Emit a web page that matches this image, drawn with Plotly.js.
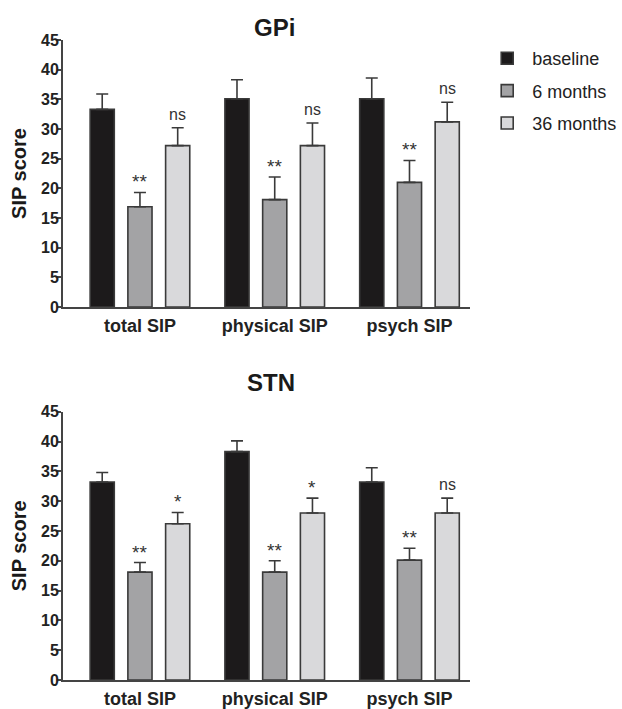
<!DOCTYPE html>
<html><head><meta charset="utf-8">
<script src="https://cdn.plot.ly/plotly-3.0.1.min.js"></script>
<style>body{margin:0;background:#fff}#c{width:622px;height:709px}</style>
</head><body><div id="c"></div>
<script>
const categories = ["total SIP", "physical SIP", "psych SIP"];
const seriesNames = ["baseline", "6 months", "36 months"];
const gpiValues = [[33.3, 35.1, 35.1], [16.9, 18.1, 21.0], [27.2, 27.2, 31.2]];
const gpiErrors = [[2.6, 3.2, 3.5], [2.4, 3.8, 3.7], [3.0, 3.8, 3.3]];
const stnValues = [[33.2, 38.3, 33.2], [18.1, 18.1, 20.1], [26.2, 28.0, 28.0]];
const stnErrors = [[1.6, 1.8, 2.4], [1.6, 1.9, 2.0], [1.9, 2.5, 2.5]];
const gpiSig = [["", "", ""], ["**", "**", "**"], ["ns", "ns", "ns"]];
const stnSig = [["", "", ""], ["**", "**", "**"], ["*", "*", "ns"]];
const yTicks = [0, 5, 10, 15, 20, 25, 30, 35, 40, 45];

const fills = ["#1c1a1b", "#a3a3a5", "#d9d9db"];
const FONT = "Liberation Sans, Arial, Helvetica, sans-serif";
const BARGAP = 0.16;
const slot = (1 - BARGAP) / 3;

const traces = [];
const annotations = [];
function addPanel(vals, errs, sig, xa, ya, showLeg) {
  for (let s = 0; s < 3; s++) {
    traces.push({
      type: "bar", x: categories, y: vals[s], name: seriesNames[s],
      xaxis: xa, yaxis: ya, showlegend: showLeg, legendgroup: seriesNames[s],
      marker: {color: fills[s], line: {color: "#3a3a3a", width: 1.6}},
      error_y: {type: "data", symmetric: false, array: errs[s],
        arrayminus: errs[s].map(() => 0), color: "#3a3a3a", thickness: 1.6, width: 6},
      hoverinfo: "skip"
    });
    for (let i = 0; i < 3; i++) {
      if (!sig[s][i]) continue;
      const isNs = sig[s][i] === "ns";
      annotations.push({
        xref: xa, yref: ya, x: i + (s - 1) * slot, y: vals[s][i] + errs[s][i],
        text: sig[s][i], showarrow: false, yanchor: "bottom", yshift: isNs ? 3 : -2,
        font: {family: FONT, size: isNs ? 16 : 19, color: "#333"}
      });
    }
  }
}
addPanel(gpiValues, gpiErrors, gpiSig, "x", "y", true);
addPanel(stnValues, stnErrors, stnSig, "x2", "y2", false);

annotations.push({xref: "paper", yref: "paper", x: 0.52, y: 1.0, yshift: 28, text: "<b>GPi</b>",
  showarrow: false, font: {family: FONT, size: 24, color: "#1a1a1a"}});
annotations.push({xref: "paper", yref: "paper", x: 0.51, y: 0.4192, yshift: 29, text: "<b>STN</b>",
  showarrow: false, font: {family: FONT, size: 24, color: "#1a1a1a"}});

function yaxis(domain, anchor) {
  return {domain: domain, anchor: anchor, range: [0, 45], tickvals: yTicks, ticktext: yTicks.map(v => "<b>" + v + "</b>"),
    ticks: "outside", ticklen: 4, tickwidth: 2, tickcolor: "#444", showline: true, linecolor: "#444", linewidth: 2,
    showgrid: false, zeroline: false, ticklabelstandoff: -5, tickfont: {family: FONT, size: 16, color: "#222"},
    title: {text: "<b>SIP score</b>", font: {family: FONT, size: 20, color: "#1a1a1a"}, standoff: 9}};
}
function xaxis(anchor) {
  return {anchor: anchor, type: "category", range: [-0.571, 2.449], showline: true, linecolor: "#444", linewidth: 2,
    tickvals: categories, ticktext: categories.map(c => "<b>" + c + "</b>"),
    ticks: "", showgrid: false, zeroline: false, ticklabelstandoff: 1,
    tickfont: {family: FONT, size: 18, color: "#222"}};
}

const layout = {
  width: 622, height: 709, paper_bgcolor: "#fff", plot_bgcolor: "#fff",
  margin: {l: 63, r: 152, t: 40, b: 29, autoexpand: false},
  barmode: "group", bargap: BARGAP, bargroupgap: 0.36,
  xaxis: xaxis("y"), yaxis: yaxis([0.5828, 1], "x"),
  xaxis2: xaxis("y2"), yaxis2: yaxis([0, 0.4192], "x2"),
  showlegend: true,
  legend: {x: 1.03, y: 1.0, xanchor: "left", yanchor: "top", tracegroupgap: 6, itemwidth: 40,
    font: {family: FONT, size: 18, color: "#222"}, bgcolor: "rgba(0,0,0,0)"},
  annotations: annotations
};
Plotly.newPlot("c", traces, layout, {displayModeBar: false, staticPlot: true});
</script></body></html>
